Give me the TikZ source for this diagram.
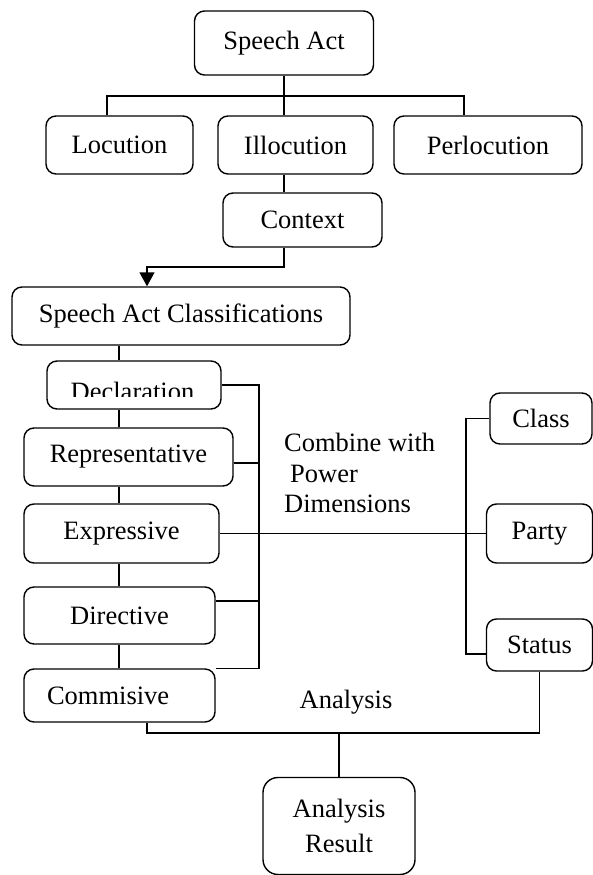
\documentclass[tikz,border=0pt]{standalone}
\usepackage{fontspec}
\setmainfont{Liberation Serif}
\usetikzlibrary{arrows.meta,positioning}
\tikzset{
	box/.style={draw, rounded corners=10pt, line width=1.4pt, inner sep=2pt,
		align=center, font=\fontsize{26.5}{30}\selectfont},
	tag/.style={inner sep=0pt, align=left, font=\fontsize{26.5}{30.5}\selectfont},
	wire/.style={line width=1.4pt}, % all connectors
	>={Triangle[width=15pt,length=14pt]}, % big filled head
}

\begin{document}
\begin{tikzpicture}[x=1pt, y=-1pt]
	\useasboundingbox (0,0) rectangle (593,875);

	% speech act tree
	\node[box, minimum width=179pt, minimum height=64pt] (sa) at (284,43) {Speech Act};
	\node[box, minimum width=147pt, minimum height=58pt] (loc) at (119.5,145) {Locution};
	\node[box, minimum width=155pt, minimum height=58pt] (illoc) at (295.5,145) {Illocution};
	\node[box, minimum width=188pt, minimum height=58pt] (perloc) at (488,145) {Perlocution};
	\node[box, minimum width=159pt, minimum height=54pt] (ctx) at (302.5,220) {Context};
	\node[box, minimum width=338pt, minimum height=58pt] (sac) at (181,316) {Speech Act Classifications};

	% classifications
	\node[box, minimum width=174pt, minimum height=48pt] (decl) at (134,385) {};
	\begin{scope}
		\clip (47,361) rectangle (221,396); % text is cut off in the box
		\node[tag, anchor=base] (decltext) at (132.5,400) {Declaration};
	\end{scope}
	\node[box, minimum width=209pt, minimum height=58pt] (rep) at (128.5,457) {Representative};
	\node[box, minimum width=195pt, minimum height=59pt] (expr) at (121.5,533.5) {Expressive};
	\node[box, minimum width=191pt, minimum height=57pt] (dir) at (119.5,615.5) {Directive};
	\node[box, minimum height=53pt, text width=145pt, inner xsep=23pt, align=left] (com) at (119.5,695.5) {Commisive};

	% power dimensions
	\node[box, minimum width=102pt, minimum height=51pt] (cls) at (541,418.5) {Class};
	\node[box, minimum width=106pt, minimum height=59pt] (party) at (539.5,533.5) {Party};
	\node[box, minimum width=106pt, minimum height=52pt] (status) at (539.5,645) {Status};

	\node[box, rounded corners=15pt, minimum width=152pt, minimum height=97pt,
		font=\fontsize{26.5}{35}\selectfont] (res) at (339,826) {Analysis\\Result};

	\node[tag, anchor=north west] (combine) at (284,433) {Combine with\\\hspace*{6pt}Power\\Dimensions};
	\node[tag, anchor=base] (analysis) at (346,708) {Analysis};

	% top connectors
	\draw[wire] (sa.south) -- ++(0,21) coordinate (fork);
	\coordinate (lfork) at (107,96);
	\coordinate (rfork) at (464,96);
	\draw[wire] (loc.north -| lfork) -- (lfork) -- (rfork) -- (perloc.north -| rfork);
	\draw[wire] (fork) -- (illoc.north -| fork);
	\draw[wire] (illoc.south -| fork) -- (ctx.north -| fork);
	\coordinate (bend) at (147,267);
	\draw[wire, ->] (ctx.south -| fork) |- (bend) -- (sac.north -| bend);

	% chain of classifications
	\coordinate (spine) at (119,0);
	\foreach \a/\b in {sac/decl, decl/rep, rep/expr, expr/dir, dir/com}
		\draw[wire] (\a.south -| spine) -- (\b.north -| spine);

	% left bus
	\coordinate (lbus) at (259,0);
	\coordinate (repout) at ([yshift=-6pt]rep.east);
	\coordinate (dirout) at ([yshift=14.5pt]dir.east);
	\draw[wire] (decl.east) -- (decl.east -| lbus) -- (com.north -| lbus) -- (com.north east);
	\draw[wire] (repout) -- (repout -| lbus);
	\draw[wire] (dirout) -- (dirout -| lbus);

	% right bus
	\coordinate (rbus) at (466,0);
	\coordinate (statin) at ([yshift=-9pt]status.west);
	\draw[wire] (expr.east) -- (party.west);
	\draw[wire] (cls.west) -| (rbus |- statin) -- (statin);

	% analysis
	\coordinate (comout) at ([xshift=27.5pt]com.south);
	\coordinate (join) at (339,733);
	\draw[wire] (comout) |- (status.south |- join) -- (status.south);
	\draw[wire] (join) -- (res.north);
\end{tikzpicture}
\end{document}
